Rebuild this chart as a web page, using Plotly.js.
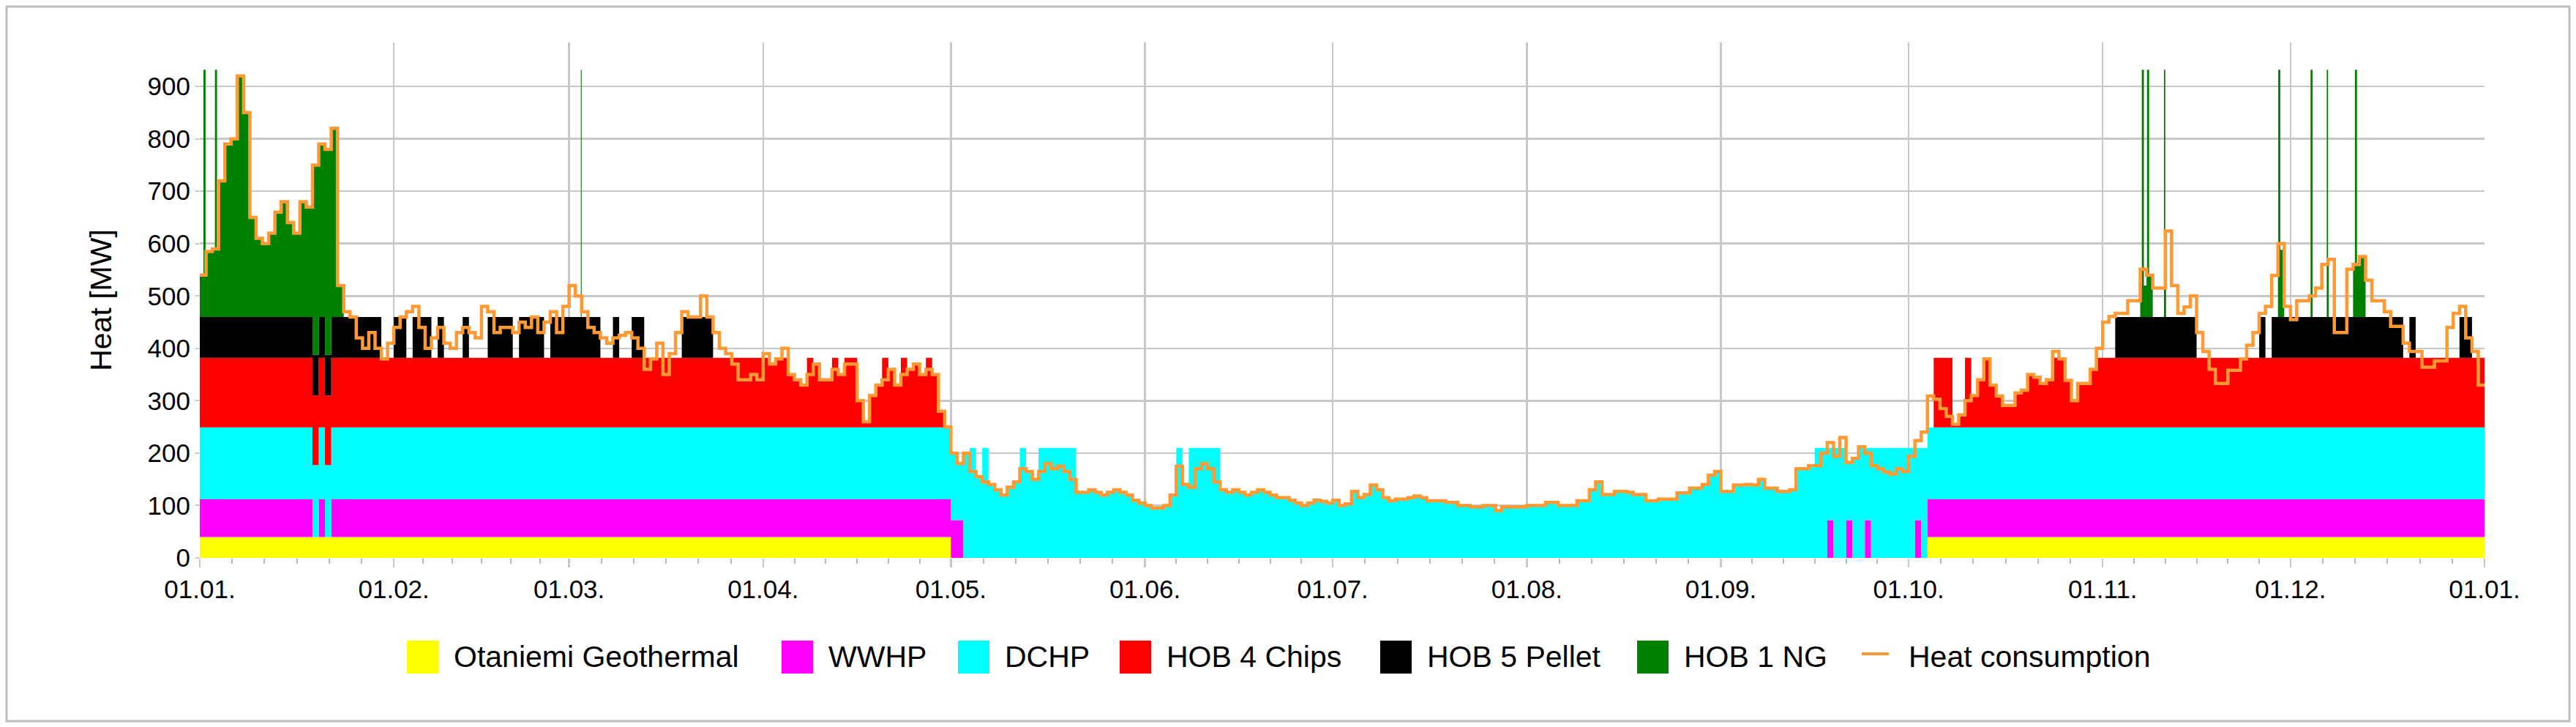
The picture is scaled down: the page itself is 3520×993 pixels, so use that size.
<!DOCTYPE html>
<html>
<head>
<meta charset="utf-8">
<script src="https://cdn.plot.ly/plotly-3.0.1.min.js"></script>
<style>
html,body{margin:0;padding:0;background:#fff;}
#chart{width:3520px;height:993px;}
</style>
</head>
<body>
<div id="chart"></div>
<script>
// ---------------- DATA (daily values, MW) ----------------
const yearStart = '2019-01-01';
const seriesNames = ['Otaniemi Geothermal','WWHP','DCHP','HOB 4 Chips','HOB 5 Pellet','HOB 1 NG','Heat consumption'];
const seriesColors = ['#ffff00','#ff00ff','#00ffff','#ff0000','#000000','#008000','#ff9933'];
const yTickValues = [0,100,200,300,400,500,600,700,800,900];

const heatConsumption = [
 // Jan
 540,585,590,720,790,800,920,850,650,610, 600,620,660,680,640,620,680,670,750,790, 780,820,520,470,460,420,400,430,400,380, 410,
 // Feb
 440,460,470,480,440,400,420,440,410,400, 430,440,430,420,480,470,430,440,440,430, 450,440,460,430,450,470,430,480,
 // Mar
 520,500,470,440,430,420,410,420,425,430, 420,400,360,380,410,350,390,430,470,460, 460,500,460,430,400,390,370,340,340,350, 340,
 // Apr
 390,370,380,400,350,340,330,350,370,340, 340,360,350,370,370,300,260,310,330,340, 360,330,350,360,370,350,360,350,280,250,
 // May
 200,180,200,165,155,145,140,130,120,135, 145,170,165,150,165,180,170,175,165,150, 125,125,130,125,120,125,130,125,120,110, 105,
 // Jun
 100,95,95,100,120,175,140,135,170,180, 170,145,130,125,130,125,120,125,130,125, 120,115,115,110,105,100,105,110,108,105,
 // Jul
 110,100,103,127,115,121,139,130,115,109, 112,112,115,118,115,109,109,109,106,106, 100,100,97,97,100,100,90,97,97,97, 97,
 // Aug
 100,100,100,106,106,100,100,100,109,109, 130,145,121,121,127,127,125,121,121,109, 109,112,112,112,124,124,133,133,140,158, 165,
 // Sep
 127,127,139,139,140,139,150,133,133,127, 127,130,170,170,176,176,200,220,194,230, 182,190,212,200,176,170,164,160,170,165,
 // Oct
 194,224,240,309,303,285,270,255,273,300, 310,340,380,330,309,291,291,315,320,350, 345,333,340,394,380,339,300,333,333,360, 400,
 // Nov
 450,461,467,467,491,491,551,540,515,515, 624,520,467,479,500,430,394,360,333,333, 358,358,380,406,430,467,480,539,600,480,
 // Dec
 455,491,491,500,515,560,570,430,430,551, 560,575,530,491,491,470,442,442,410,394, 394,364,364,376,376,440,467,480,420,394, 330
];

const geothermal = [
 // Jan
 40,40,40,40,40,40,40,40,40,40, 40,40,40,40,40,40,40,40,40,40, 40,40,40,40,40,40,40,40,40,40, 40,
 // Feb
 40,40,40,40,40,40,40,40,40,40, 40,40,40,40,40,40,40,40,40,40, 40,40,40,40,40,40,40,40,
 // Mar
 40,40,40,40,40,40,40,40,40,40, 40,40,40,40,40,40,40,40,40,40, 40,40,40,40,40,40,40,40,40,40, 40,
 // Apr
 40,40,40,40,40,40,40,40,40,40, 40,40,40,40,40,40,40,40,40,40, 40,40,40,40,40,40,40,40,40,40,
 // May
 0,0,0,0,0,0,0,0,0,0, 0,0,0,0,0,0,0,0,0,0, 0,0,0,0,0,0,0,0,0,0, 0,
 // Jun
 0,0,0,0,0,0,0,0,0,0, 0,0,0,0,0,0,0,0,0,0, 0,0,0,0,0,0,0,0,0,0,
 // Jul
 0,0,0,0,0,0,0,0,0,0, 0,0,0,0,0,0,0,0,0,0, 0,0,0,0,0,0,0,0,0,0, 0,
 // Aug
 0,0,0,0,0,0,0,0,0,0, 0,0,0,0,0,0,0,0,0,0, 0,0,0,0,0,0,0,0,0,0, 0,
 // Sep
 0,0,0,0,0,0,0,0,0,0, 0,0,0,0,0,0,0,0,0,0, 0,0,0,0,0,0,0,0,0,0,
 // Oct
 0,0,0,40,40,40,40,40,40,40, 40,40,40,40,40,40,40,40,40,40, 40,40,40,40,40,40,40,40,40,40, 40,
 // Nov
 40,40,40,40,40,40,40,40,40,40, 40,40,40,40,40,40,40,40,40,40, 40,40,40,40,40,40,40,40,40,40,
 // Dec
 40,40,40,40,40,40,40,40,40,40, 40,40,40,40,40,40,40,40,40,40, 40,40,40,40,40,40,40,40,40,40, 40
];

const wwhp = [
 // Jan
 72,72,72,72,72,72,72,72,72,72, 72,72,72,72,72,72,72,72,0,72, 0,72,72,72,72,72,72,72,72,72, 72,
 // Feb
 72,72,72,72,72,72,72,72,72,72, 72,72,72,72,72,72,72,72,72,72, 72,72,72,72,72,72,72,72,
 // Mar
 72,72,72,72,72,72,72,72,72,72, 72,72,72,72,72,72,72,72,72,72, 72,72,72,72,72,72,72,72,72,72, 72,
 // Apr
 72,72,72,72,72,72,72,72,72,72, 72,72,72,72,72,72,72,72,72,72, 72,72,72,72,72,72,72,72,72,72,
 // May
 72,72,0,0,0,0,0,0,0,0, 0,0,0,0,0,0,0,0,0,0, 0,0,0,0,0,0,0,0,0,0, 0,
 // Jun
 0,0,0,0,0,0,0,0,0,0, 0,0,0,0,0,0,0,0,0,0, 0,0,0,0,0,0,0,0,0,0,
 // Jul
 0,0,0,0,0,0,0,0,0,0, 0,0,0,0,0,0,0,0,0,0, 0,0,0,0,0,0,0,0,0,0, 0,
 // Aug
 0,0,0,0,0,0,0,0,0,0, 0,0,0,0,0,0,0,0,0,0, 0,0,0,0,0,0,0,0,0,0, 0,
 // Sep
 0,0,0,0,0,0,0,0,0,0, 0,0,0,0,0,0,0,72,0,0, 72,0,0,72,0,0,0,0,0,0,
 // Oct
 0,72,0,72,72,72,72,72,72,72, 72,72,72,72,72,72,72,72,72,72, 72,72,72,72,72,72,72,72,72,72, 72,
 // Nov
 72,72,72,72,72,72,72,72,72,72, 72,72,72,72,72,72,72,72,72,72, 72,72,72,72,72,72,72,72,72,72,
 // Dec
 72,72,72,72,72,72,72,72,72,72, 72,72,72,72,72,72,72,72,72,72, 72,72,72,72,72,72,72,72,72,72, 72
];

const dchp = [
 // Jan
 137,137,137,137,137,137,137,137,137,137, 137,137,137,137,137,137,137,137,137,137, 137,137,137,137,137,137,137,137,137,137, 137,
 // Feb
 137,137,137,137,137,137,137,137,137,137, 137,137,137,137,137,137,137,137,137,137, 137,137,137,137,137,137,137,137,
 // Mar
 137,137,137,137,137,137,137,137,137,137, 137,137,137,137,137,137,137,137,137,137, 137,137,137,137,137,137,137,137,137,137, 137,
 // Apr
 137,137,137,137,137,137,137,137,137,137, 137,137,137,137,137,137,137,137,137,137, 137,137,137,137,137,137,137,137,137,137,
 // May
 128,108,200,210,155,210,140,130,120,135, 145,210,165,150,210,210,210,210,210,210, 125,125,130,125,120,125,130,125,120,110, 105,
 // Jun
 100,95,95,100,120,210,140,210,210,210, 210,210,130,125,130,125,120,125,130,125, 120,115,115,110,105,100,105,110,108,105,
 // Jul
 110,100,103,127,115,121,139,130,115,109, 112,112,115,118,115,109,109,109,106,106, 100,100,97,97,100,100,90,97,97,97, 97,
 // Aug
 100,100,100,106,106,100,100,100,109,109, 130,145,121,121,127,127,125,121,121,109, 109,112,112,112,124,124,133,133,140,158, 165,
 // Sep
 127,127,139,139,140,139,150,133,133,127, 127,130,170,170,176,210,210,138,210,210, 110,190,212,138,210,210,210,210,210,210,
 // Oct
 210,138,210,137,137,137,137,137,137,137, 137,137,137,137,137,137,137,137,137,137, 137,137,137,137,137,137,137,137,137,137, 137,
 // Nov
 137,137,137,137,137,137,137,137,137,137, 137,137,137,137,137,137,137,137,137,137, 137,137,137,137,137,137,137,137,137,137,
 // Dec
 137,137,137,137,137,137,137,137,137,137, 137,137,137,137,137,137,137,137,137,137, 137,137,137,137,137,137,137,137,137,137, 137
];

const hob4Chips = [
 // Jan
 133,133,133,133,133,133,133,133,133,133, 133,133,133,133,133,133,133,133,133,133, 133,133,133,133,133,133,133,133,133,133, 133,
 // Feb
 133,133,133,133,133,133,133,133,133,133, 133,133,133,133,133,133,133,133,133,133, 133,133,133,133,133,133,133,133,
 // Mar
 133,133,133,133,133,133,133,133,133,133, 133,133,133,133,133,133,133,133,133,133, 133,133,133,133,133,133,133,133,133,133, 133,
 // Apr
 133,121,131,133,101,91,81,133,121,91, 91,133,101,133,133,51,11,61,81,133, 111,81,133,111,121,101,133,101,31,1,
 // May
 0,0,0,0,0,0,0,0,0,0, 0,0,0,0,0,0,0,0,0,0, 0,0,0,0,0,0,0,0,0,0, 0,
 // Jun
 0,0,0,0,0,0,0,0,0,0, 0,0,0,0,0,0,0,0,0,0, 0,0,0,0,0,0,0,0,0,0,
 // Jul
 0,0,0,0,0,0,0,0,0,0, 0,0,0,0,0,0,0,0,0,0, 0,0,0,0,0,0,0,0,0,0, 0,
 // Aug
 0,0,0,0,0,0,0,0,0,0, 0,0,0,0,0,0,0,0,0,0, 0,0,0,0,0,0,0,0,0,0, 0,
 // Sep
 0,0,0,0,0,0,0,0,0,0, 0,0,0,0,0,0,0,0,0,0, 0,0,0,0,0,0,0,0,0,0,
 // Oct
 0,0,0,0,133,133,133,6,24,133, 61,91,131,81,60,42,42,66,71,101, 96,84,91,133,131,90,51,84,84,111, 133,
 // Nov
 133,133,133,133,133,133,133,133,133,133, 133,133,133,133,133,133,133,133,133,133, 133,133,133,133,133,133,133,133,133,133,
 // Dec
 133,133,133,133,133,133,133,133,133,133, 133,133,133,133,133,133,133,133,133,133, 133,133,133,133,133,133,133,133,133,133, 133
];

const hob5Pellet = [
 // Jan
 78,78,78,78,78,78,78,78,78,78, 78,78,78,78,78,78,78,78,78,78, 78,78,78,78,78,78,78,78,78,0, 0,
 // Feb
 78,78,0,78,78,78,0,78,0,0, 0,78,0,0,0,78,78,78,78,0, 78,78,78,78,0,78,78,78,
 // Mar
 78,78,78,78,78,0,0,78,0,0, 78,78,0,0,0,0,0,0,78,78, 78,78,78,0,0,0,0,0,0,0, 0,
 // Apr
 0,0,0,0,0,0,0,0,0,0, 0,0,0,0,0,0,0,0,0,0, 0,0,0,0,0,0,0,0,0,0,
 // May
 0,0,0,0,0,0,0,0,0,0, 0,0,0,0,0,0,0,0,0,0, 0,0,0,0,0,0,0,0,0,0, 0,
 // Jun
 0,0,0,0,0,0,0,0,0,0, 0,0,0,0,0,0,0,0,0,0, 0,0,0,0,0,0,0,0,0,0,
 // Jul
 0,0,0,0,0,0,0,0,0,0, 0,0,0,0,0,0,0,0,0,0, 0,0,0,0,0,0,0,0,0,0, 0,
 // Aug
 0,0,0,0,0,0,0,0,0,0, 0,0,0,0,0,0,0,0,0,0, 0,0,0,0,0,0,0,0,0,0, 0,
 // Sep
 0,0,0,0,0,0,0,0,0,0, 0,0,0,0,0,0,0,0,0,0, 0,0,0,0,0,0,0,0,0,0,
 // Oct
 0,0,0,0,0,0,0,0,0,0, 0,0,0,0,0,0,0,0,0,0, 0,0,0,0,0,0,0,0,0,0, 0,
 // Nov
 0,0,78,78,78,78,78,78,78,78, 78,78,78,78,78,0,0,0,0,0, 0,0,0,0,0,78,0,78,78,78,
 // Dec
 78,78,78,78,78,78,78,78,78,78, 78,78,78,78,78,78,78,78,0,78, 0,0,0,0,0,0,0,78,78,0, 0
];

const hob1NG = [
 // Jan
 80,125,130,260,330,340,460,390,190,150, 140,160,200,220,180,160,220,210,362,330, 392,360,60,0,0,0,0,0,0,0, 0,
 // Feb
 0,0,0,0,0,0,0,0,0,0, 0,0,0,0,0,0,0,0,0,0, 0,0,0,0,0,0,0,0,
 // Mar
 0,0,0,0,0,0,0,0,0,0, 0,0,0,0,0,0,0,0,0,0, 0,0,0,0,0,0,0,0,0,0, 0,
 // Apr
 0,0,0,0,0,0,0,0,0,0, 0,0,0,0,0,0,0,0,0,0, 0,0,0,0,0,0,0,0,0,0,
 // May
 0,0,0,0,0,0,0,0,0,0, 0,0,0,0,0,0,0,0,0,0, 0,0,0,0,0,0,0,0,0,0, 0,
 // Jun
 0,0,0,0,0,0,0,0,0,0, 0,0,0,0,0,0,0,0,0,0, 0,0,0,0,0,0,0,0,0,0,
 // Jul
 0,0,0,0,0,0,0,0,0,0, 0,0,0,0,0,0,0,0,0,0, 0,0,0,0,0,0,0,0,0,0, 0,
 // Aug
 0,0,0,0,0,0,0,0,0,0, 0,0,0,0,0,0,0,0,0,0, 0,0,0,0,0,0,0,0,0,0, 0,
 // Sep
 0,0,0,0,0,0,0,0,0,0, 0,0,0,0,0,0,0,0,0,0, 0,0,0,0,0,0,0,0,0,0,
 // Oct
 0,0,0,0,0,0,0,0,0,0, 0,0,0,0,0,0,0,0,0,0, 0,0,0,0,0,0,0,0,0,0, 0,
 // Nov
 0,0,0,0,0,0,60,80,0,0, 146,0,0,0,0,0,0,0,0,0, 0,0,0,0,0,0,0,0,128,0,
 // Dec
 0,0,0,0,0,0,110,0,0,0, 100,115,0,0,0,0,0,0,0,0, 0,0,0,0,0,0,0,0,0,0, 0
];

// short NG peaks (hourly spikes): start time and the stack top they reach
const ngSpikeTimes = ['2019-01-01 14:00','2019-01-03 10:00','2019-03-02 21:00','2019-11-07 06:00','2019-11-08 02:00',
                      '2019-11-10 19:00','2019-11-29 01:00','2019-12-04 05:00','2019-12-06 19:00','2019-12-11 07:00'];
const ngSpikeTop = [932,932,932,932,932,932,932,932,932,932];
const ngSpikeHours = 8;

// ---------------- BUILD TABLE ----------------
const HOUR = 3600000, DAY = 24*HOUR;
const t0 = Date.parse(yearStart + 'T00:00:00Z');
const nDays = heatConsumption.length;
[geothermal,wwhp,dchp,hob4Chips,hob5Pellet,hob1NG].forEach((a,i)=>{ if(a.length!==nDays) console.error('length mismatch', i, a.length); });
const fmt = t => new Date(t).toISOString().slice(0,19).replace('T',' ');

const units = [geothermal, wwhp, dchp, hob4Chips, hob5Pellet, hob1NG];
const pts = [];
for (let d = 0; d < nDays; d++) pts.push({t: t0 + d*DAY, d: d, top: null});
pts.push({t: t0 + nDays*DAY, d: nDays-1, top: null});
ngSpikeTimes.forEach((s, i) => {
  const t = Date.parse(s.replace(' ', 'T') + ':00Z');
  const d = Math.floor((t - t0) / DAY);
  pts.push({t: t, d: d, top: ngSpikeTop[i]});
  pts.push({t: t + ngSpikeHours*HOUR, d: d, top: null});
});
pts.sort((a, b) => a.t - b.t);

const xs = pts.map(p => fmt(p.t));
const traces = units.map((arr, k) => {
  const ys = pts.map(p => {
    if (k === 5 && p.top !== null) {
      let base = 0; for (let j = 0; j < 5; j++) base += units[j][p.d];
      return p.top - base;
    }
    return arr[p.d];
  });
  return {
    type: 'scatter', mode: 'lines', x: xs, y: ys, name: seriesNames[k],
    stackgroup: 'heat', line: {width: 0, shape: 'hv', color: seriesColors[k]},
    fillcolor: seriesColors[k], hoverinfo: 'skip', showlegend: false
  };
});
const consX = [], consY = [];
for (let d = 0; d < nDays; d++) { consX.push(fmt(t0 + d*DAY)); consY.push(heatConsumption[d]); }
consX.push(fmt(t0 + nDays*DAY)); consY.push(heatConsumption[nDays-1]);
traces.push({type:'scatter', mode:'lines', x: consX, y: consY, name: seriesNames[6],
  line:{color: seriesColors[6], width: 4.5, shape:'hv'}, hoverinfo:'skip', showlegend:false});

// month ticks and minor ticks (sixths of each month)
const monthStarts = [], minorTicks = [];
for (let m = 0; m <= 12; m++) {
  const a = Date.UTC(2019, m, 1);
  monthStarts.push(fmt(a).slice(0,10));
  if (m < 12) {
    const b = Date.UTC(2019, m+1, 1);
    for (let k = 1; k < 6; k++) minorTicks.push(fmt(a + (b - a) * k / 6));
  }
}

// ---------------- LAYOUT ----------------
const PL = 273, PR = 3395, PT = 58, PB = 762;
const px = x => (x - PL) / (PR - PL);
const py = y => (PB - y) / (PB - PT);
const gridCol = '#c8c8c8';
const FONT = 'Liberation Sans, Arial, sans-serif';

const shapes = [{type:'rect', xref:'paper', yref:'paper', x0: px(9), x1: px(3511), y0: py(985), y1: py(9),
  line:{color:'#bdbdbd', width:3}, fillcolor:'rgba(0,0,0,0)', layer:'above'}];
const annotations = [];
const legendX = [556, 1068, 1309, 1530, 1886, 2237, 2544];
seriesNames.forEach((nm, i) => {
  const x = legendX[i];
  if (i < 6) {
    shapes.push({type:'rect', xref:'paper', yref:'paper', x0: px(x), x1: px(x+43), y0: py(920), y1: py(875),
      fillcolor: seriesColors[i], line:{width:0}});
  } else {
    shapes.push({type:'line', xref:'paper', yref:'paper', x0: px(x), x1: px(x+37), y0: py(893), y1: py(893),
      line:{color: seriesColors[i], width:4}});
  }
  annotations.push({xref:'paper', yref:'paper', x: px(x + 62), y: py(897), xanchor:'left', yanchor:'middle',
    text: nm, showarrow:false, font:{family: FONT, size:41, color:'#000'}});
});

const layout = {
  width: 3520, height: 993,
  margin: {l: PL, r: 3520-PR, t: PT, b: 993-PB, pad: 0},
  paper_bgcolor: '#ffffff', plot_bgcolor: '#ffffff',
  font: {family: FONT, size: 35, color: '#000'},
  showlegend: false,
  xaxis: {
    type: 'date', range: [fmt(t0), fmt(t0 + nDays*DAY)],
    tickmode: 'array', tickvals: monthStarts, tickformat: '%d.%m.',
    ticks: 'outside', ticklen: 12, tickwidth: 2.5, tickcolor: gridCol,
    showgrid: true, gridcolor: gridCol, gridwidth: 2.5,
    zeroline: false, showline: false,
    tickfont: {family: FONT, size: 35, color: '#000'},
    minor: {tickmode: 'array', tickvals: minorTicks, ticks: 'outside', ticklen: 7, tickwidth: 2, tickcolor: '#b8b8b8', showgrid: false}
  },
  yaxis: {
    range: [0, 984], tickmode: 'array', tickvals: yTickValues,
    ticks: 'outside', ticklen: 5, tickwidth: 2, tickcolor: gridCol,
    showgrid: true, gridcolor: gridCol, gridwidth: 2.5,
    zeroline: false, showline: false,
    tickfont: {family: FONT, size: 35, color: '#000'},
    title: {text: 'Heat [MW]', font: {family: FONT, size: 41, color: '#000'}, standoff: 36}
  },
  shapes: shapes,
  annotations: annotations
};

Plotly.newPlot('chart', traces, layout, {staticPlot: true, displayModeBar: false});
</script>
</body>
</html>
